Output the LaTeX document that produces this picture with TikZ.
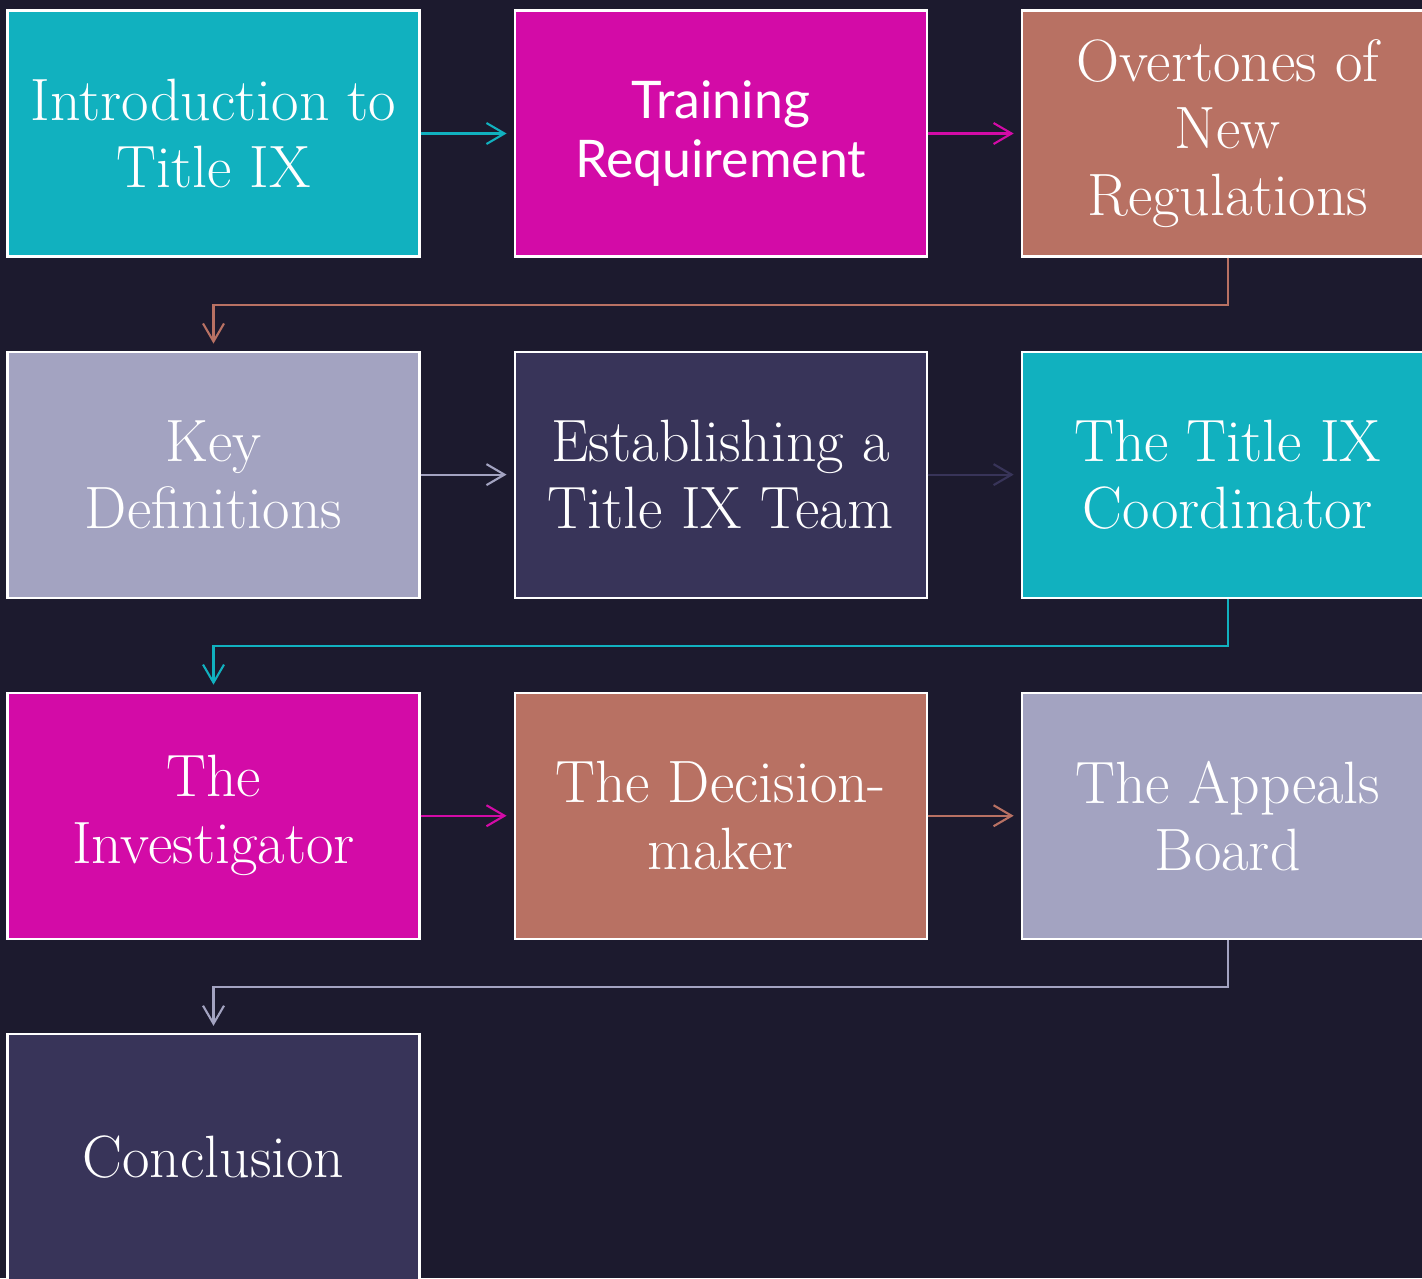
\documentclass[tikz,border=0pt]{standalone}
\usepackage{fontspec}
\usetikzlibrary{positioning,arrows.meta}
\newfontfamily\gillfont{Lato}
\definecolor{bgnavy}{HTML}{1C1A2E}
\definecolor{cteal}{HTML}{11B1BF}
\definecolor{cmagenta}{HTML}{D30BA7}
\definecolor{cbrown}{HTML}{B87163}
\definecolor{clavender}{HTML}{A3A3C1}
\definecolor{cplum}{HTML}{383459}

\begin{document}
\begin{tikzpicture}[auto,node distance=1.86cm,line width=1.2pt]
		 \tikzstyle{every node}=[draw=white,shape=rectangle,minimum width=8.24cm,minimum height=4.92cm,inner sep=0pt,align=center,text=white,font=\fontsize{34}{38}\selectfont]
		 \tikzstyle{flow}=[-{Straight Barb[length=3.6mm,width=4.2mm]},shorten >=1.4mm]

		  \fill[bgnavy] (0,0) rectangle (28.44,-25.56);
		  \useasboundingbox (0,0) rectangle (28.44,-25.56);

		  \node[fill=cteal]      (1) at (4.27,-2.67) {Introduction to\\Title IX};
		  \node[fill=cmagenta,font=\gillfont\fontsize{29.5}{34}\selectfont] (2) [right=of 1] {Training\\Requirement};
		  \node[fill=cbrown]     (3) [right=of 2] {Overtones of\\New\\Regulations};

		  \node[fill=clavender]  (4) [below=of 1] {Key\\Definitions};
		  \node[fill=cplum]      (5) [right=of 4] {Establishing a\\Title IX Team};
		  \node[fill=cteal]      (6) [right=of 5] {The Title IX\\Coordinator};

		  \node[fill=cmagenta]   (7) [below=of 4] {The\\Investigator};
		  \node[fill=cbrown]     (8) [right=of 7] {The Decision-\\maker};
		  \node[fill=clavender]  (9) [right=of 8] {The Appeals\\Board};

		  \node[fill=cplum]     (10) [below=of 7] {Conclusion};

		  \path[flow] (1) edge[cteal]     (2);
		  \path[flow] (2) edge[cmagenta]  (3);
		  \path[flow] (4) edge[clavender] (5);
		  \path[flow] (5) edge[cplum]     (6);
		  \path[flow] (7) edge[cmagenta]  (8);
		  \path[flow] (8) edge[cbrown]    (9);

		  \draw[flow,cbrown]    (3.south) -- ++(0,-0.94) -| (4.north);
		  \draw[flow,cteal]     (6.south) -- ++(0,-0.94) -| (7.north);
		  \draw[flow,clavender] (9.south) -- ++(0,-0.94) -| (10.north);

		\end{tikzpicture}
\end{document}
